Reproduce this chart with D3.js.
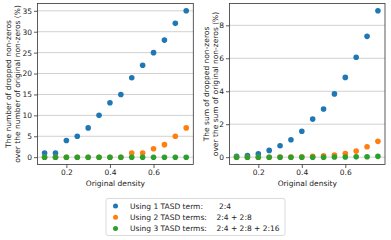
<!DOCTYPE html>
<html>
<head>
<meta charset="utf-8">
<script src="https://cdn.jsdelivr.net/npm/d3@7"></script>
<style>
body { margin: 0; background: #fff; }
text { font-family: "DejaVu Sans", sans-serif; fill: #222; }
</style>
</head>
<body>
<div id="chart"></div>
<script>
// data
var density = [0.1, 0.15, 0.2, 0.25, 0.3, 0.35, 0.4, 0.45, 0.5, 0.55, 0.6, 0.65, 0.7, 0.75];

var countTerm1 = [1, 1, 4, 5, 7, 10, 13, 15, 19, 22, 25, 28, 32, 35];
var countTerm2 = [0, 0, 0, 0, 0, 0, 0, 0, 1, 1, 2, 3, 5, 7];
var countTerm3 = [0, 0, 0, 0, 0, 0, 0, 0, 0, 0, 0, 0, 0, 0];

var sumTerm1 = [0.06, 0.1, 0.2, 0.41, 0.69, 1.06, 1.57, 2.31, 2.92, 3.84, 4.84, 6.06, 7.33, 8.88];
var sumTerm2 = [0, 0, 0, 0, 0.01, 0.01, 0.02, 0.05, 0.08, 0.13, 0.22, 0.37, 0.63, 0.96];
var sumTerm3 = [0, 0, 0, 0, 0, 0, 0, 0, 0, 0.01, 0.01, 0.02, 0.03, 0.05];

var leftTicks = [0, 5, 10, 15, 20, 25, 30, 35];
var rightTicks = [0, 2, 4, 6, 8];
var xTicks = [0.2, 0.4, 0.6];

var seriesNames = ["Using 1 TASD term:", "Using 2 TASD terms:", "Using 3 TASD terms:"];
var seriesTerms = ["2:4", "2:4 + 2:8", "2:4 + 2:8 + 2:16"];
var colors = ["#1f77b4", "#ff7f0e", "#2ca02c"];

var svg = d3.select("#chart").append("svg")
  .attr("width", 391)
  .attr("height", 240);

function drawPanel(opts) {
  var x = d3.scaleLinear().domain([0.0675, 0.7825]).range([opts.left, opts.right]);
  var y = d3.scaleLinear().domain(opts.ydomain).range([164.5, 3.5]);
  var g = svg.append("g");

  // grid
  g.selectAll(".grid").data(opts.yticks).enter().append("line")
    .attr("x1", opts.left).attr("x2", opts.right)
    .attr("y1", d => y(d)).attr("y2", d => y(d))
    .attr("stroke", "#d0d0d0").attr("stroke-width", 1);

  // axes
  var xa = g.append("g")
    .attr("transform", "translate(0,164.5)")
    .call(d3.axisBottom(x).tickValues(xTicks).tickSize(3.5).tickPadding(2).tickFormat(d3.format(".1f")));
  var ya = g.append("g")
    .attr("transform", "translate(" + opts.left + ",0)")
    .call(d3.axisLeft(y).tickValues(opts.yticks).tickSize(3.5).tickPadding(2).tickFormat(d3.format("d")));
  [xa, ya].forEach(function(a) {
    a.select(".domain").remove();
    a.selectAll("line").attr("stroke", "#333").attr("stroke-width", 0.8);
    a.selectAll("text").style("font-size", "7.5px").style("font-family", "DejaVu Sans").attr("fill", "#222");
  });

  // frame
  g.append("rect")
    .attr("x", opts.left).attr("y", 3.5)
    .attr("width", opts.right - opts.left).attr("height", 161)
    .attr("fill", "none").attr("stroke", "#333").attr("stroke-width", 0.8);

  // dots
  opts.series.forEach(function(vals, i) {
    g.append("g").selectAll("circle").data(vals).enter().append("circle")
      .attr("cx", (d, j) => x(density[j]))
      .attr("cy", d => y(d))
      .attr("r", 2.8)
      .attr("fill", colors[i]);
  });

  // labels
  g.append("text")
    .attr("x", (opts.left + opts.right) / 2).attr("y", 186)
    .attr("text-anchor", "middle")
    .style("font-size", "7.5px")
    .text("Original density");

  var cy = 84;
  opts.ylabel.forEach(function(line, i) {
    g.append("text")
      .attr("transform", "translate(" + (opts.labelX + i * 9) + "," + cy + ") rotate(-90)")
      .attr("text-anchor", "middle")
      .attr("dy", "0.35em")
      .style("font-size", "7.5px")
      .text(line);
  });
}

drawPanel({
  left: 37.5, right: 193.3,
  ydomain: [-1.75, 36.75],
  yticks: leftTicks,
  series: [countTerm1, countTerm2, countTerm3],
  ylabel: ["The number of dropped non-zeros", "over the number of original non-zeros (%)"],
  labelX: 8.5
});

drawPanel({
  left: 229.5, right: 385,
  ydomain: [-0.444, 9.324],
  yticks: rightTicks,
  series: [sumTerm1, sumTerm2, sumTerm3],
  ylabel: ["The sum of dropped non-zeros", "over the sum of original non-zeros (%)"],
  labelX: 206.5
});

// legend
var legend = svg.append("g");
legend.append("rect")
  .attr("x", 106).attr("y", 198.5)
  .attr("width", 179).attr("height", 37)
  .attr("rx", 2)
  .attr("fill", "#fff").attr("stroke", "#d0d0d0").attr("stroke-width", 0.8);

seriesNames.forEach(function(name, i) {
  var yy = 206 + i * 11.3;
  legend.append("circle").attr("cx", 115.5).attr("cy", yy).attr("r", 2.5).attr("fill", colors[i]);
  legend.append("text").attr("x", 130).attr("y", yy).attr("dy", "0.35em")
    .style("font-size", "7.5px").text(name);
  legend.append("text").attr("x", i === 0 ? 219 : 216.5).attr("y", yy).attr("dy", "0.35em")
    .style("font-size", "7.5px").text(seriesTerms[i]);
});
</script>
</body>
</html>
